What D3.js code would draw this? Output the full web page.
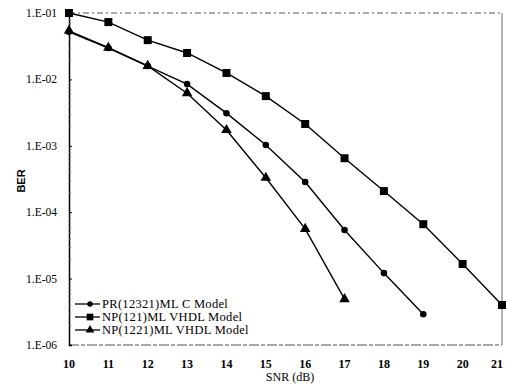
<!DOCTYPE html>
<html><head><meta charset="utf-8">
<script src="https://cdn.jsdelivr.net/npm/d3@7"></script>
<style>body{margin:0;background:#fff}svg{display:block}</style>
</head><body><svg id="c" width="506" height="385"></svg>
<script>
const snr = [10,11,12,13,14,15,16,17,18,19,20,21];
const prC   = [5.2e-2,2.97e-2,1.59e-2,8.5e-3,3.1e-3,1.03e-3,2.85e-4,5.4e-5,1.21e-5,2.9e-6];
const np121 = [1e-1,7.3e-2,3.9e-2,2.5e-2,1.25e-2,5.6e-3,2.13e-3,6.5e-4,2.08e-4,6.6e-5,1.66e-5,4.0e-6];
const np1221= [5.4e-2,3.0e-2,1.6e-2,6.2e-3,1.73e-3,3.3e-4,5.6e-5,4.9e-6];
const seriesNames = ["PR(12321)ML C Model","NP(121)ML VHDL Model","NP(1221)ML VHDL Model"];
const markers = ["circle","square","triangle"];
const yTickVals = [1e-1,1e-2,1e-3,1e-4,1e-5,1e-6];
const yTickLabels = ["1.E-01","1.E-02","1.E-03","1.E-04","1.E-05","1.E-06"];

const svg = d3.select("#c");
const L=69,R=502,T=13,B=345;
const x = d3.scaleLinear().domain([10,21]).range([L,R]);
const y = d3.scaleLog().domain([1e-6,1e-1]).range([B,T]);
const font = "'Liberation Serif','Times New Roman',serif";

// frame
svg.append("line").attr("x1",L).attr("x2",R).attr("y1",T).attr("y2",T)
  .attr("stroke","#555").attr("stroke-width",1).attr("stroke-dasharray","6,3,2,3");
svg.append("line").attr("x1",L).attr("x2",R).attr("y1",B).attr("y2",B)
  .attr("stroke","#555").attr("stroke-width",1.2).attr("stroke-dasharray","10,2,4,2");
svg.append("line").attr("x1",R).attr("x2",R).attr("y1",T).attr("y2",B)
  .attr("stroke","#666").attr("stroke-width",1);

// y axis
const minor=[];
for(let e=-6;e<-1;e++) for(let m=2;m<=9;m++) minor.push(m*Math.pow(10,e));
const yAxis = d3.axisRight(y).tickValues(yTickVals).tickSize(3).tickFormat("");
const ga = svg.append("g").attr("transform",`translate(${L},0)`).call(yAxis);
ga.select(".domain").attr("stroke","#000").attr("stroke-width",1.5);
const gm = svg.append("g").attr("transform",`translate(${L},0)`)
  .call(d3.axisRight(y).tickValues(minor).tickSize(2).tickFormat(""));
gm.select(".domain").remove();
gm.selectAll("line").attr("stroke","#666");
svg.append("g").selectAll("text").data(yTickVals).join("text")
  .attr("x",57).attr("y",d=>y(d)).attr("dy","0.35em").attr("text-anchor","end")
  .attr("font-family",font).attr("font-size",11.5).attr("fill","#000")
  .text((d,i)=>yTickLabels[i]);

// x labels
svg.append("g").selectAll("text").data(snr).join("text")
  .attr("x",d=>Math.min(x(d),497)).attr("y",368).attr("text-anchor","middle")
  .attr("font-family",font).attr("font-size",12).attr("font-weight","bold").attr("fill","#000")
  .text(d=>d);
svg.append("text").attr("x",290).attr("y",381).attr("text-anchor","middle")
  .attr("font-family",font).attr("font-size",12).text("SNR (dB)");
svg.append("text").attr("transform","translate(25,181) rotate(-90)").attr("text-anchor","middle")
  .attr("font-family","'Liberation Sans',Arial,sans-serif").attr("font-weight","bold").attr("font-size",11).text("BER");

const data = [prC,np121,np1221].map(arr=>arr.map((v,i)=>({x:snr[i],y:v})));
const line = d3.line().x(d=>x(d.x)).y(d=>y(d.y));
const sym = {circle:d3.symbolCircle,square:d3.symbolSquare,triangle:d3.symbolTriangle};
const size = {circle:34,square:64,triangle:48};
data.forEach((s,k)=>{
  svg.append("path").datum(s).attr("d",line).attr("fill","none").attr("stroke","#000").attr("stroke-width",1.4);
  svg.append("g").selectAll("path").data(s).join("path")
    .attr("transform",d=>`translate(${x(d.x)},${y(d.y)})`)
    .attr("d",d3.symbol().type(sym[markers[k]]).size(size[markers[k]])).attr("fill","#000");
});

// legend
const ly=[304,317,330];
seriesNames.forEach((n,k)=>{
  svg.append("line").attr("x1",75).attr("x2",100).attr("y1",ly[k]).attr("y2",ly[k]).attr("stroke","#000").attr("stroke-width",1.3);
  svg.append("path").attr("transform",`translate(90,${ly[k]})`)
    .attr("d",d3.symbol().type(sym[markers[k]]).size(size[markers[k]]*0.7)).attr("fill","#000");
  svg.append("text").attr("x",102).attr("y",ly[k]).attr("dy","0.35em")
    .attr("font-family",font).attr("font-size",12.5).attr("letter-spacing",0.3).text(n);
});
</script></body></html>
